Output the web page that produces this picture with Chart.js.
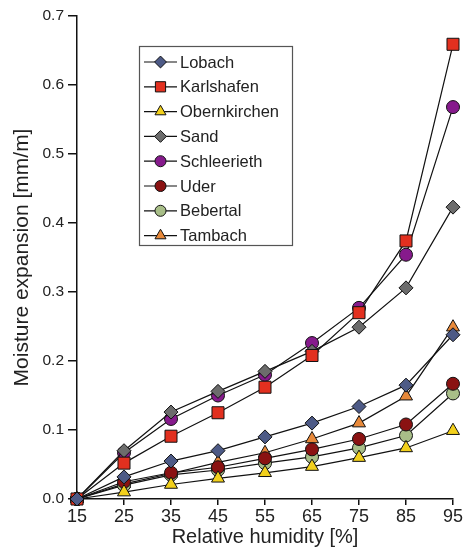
<!DOCTYPE html>
<html>
<head>
<meta charset="utf-8">
<script src="https://cdn.jsdelivr.net/npm/chart.js@4.4.1/dist/chart.umd.min.js"></script>
<style>
  html, body { margin: 0; padding: 0; background: #fff; }
  #wrap { width: 467px; height: 556px; }
</style>
</head>
<body>
<div id="wrap"><canvas id="myChart" width="467" height="556"></canvas></div>
<script>
// relative humidity steps [%]
const humidity = [15, 25, 35, 45, 55, 65, 75, 85, 95];
const yTicks = [0, 0.1, 0.2, 0.3, 0.4, 0.5, 0.6, 0.7];

// moisture expansion [mm/m]
const lobach = [0, 0.032, 0.055, 0.070, 0.090, 0.110, 0.134, 0.165, 0.238];
const karlshafen = [0, 0.052, 0.091, 0.125, 0.162, 0.208, 0.270, 0.374, 0.659];
const obernkirchen = [0, 0.010, 0.021, 0.030, 0.038, 0.047, 0.060, 0.074, 0.099];
const sand = [0, 0.070, 0.126, 0.156, 0.185, 0.214, 0.249, 0.306, 0.423];
const schleerieth = [0, 0.067, 0.116, 0.150, 0.180, 0.226, 0.277, 0.354, 0.568];
const uder = [0, 0.025, 0.038, 0.046, 0.059, 0.072, 0.087, 0.108, 0.167];
const bebertal = [0, 0.020, 0.035, 0.042, 0.052, 0.061, 0.074, 0.092, 0.153];
const tambach = [0, 0.022, 0.037, 0.053, 0.067, 0.087, 0.110, 0.149, 0.249];

const names = ['Lobach', 'Karlshafen', 'Obernkirchen', 'Sand', 'Schleerieth', 'Uder', 'Bebertal', 'Tambach'];
const series = [lobach, karlshafen, obernkirchen, sand, schleerieth, uder, bebertal, tambach];
const fills = ['#4d5a86', '#e2301f', '#f2d01c', '#6c6c6c', '#861a8c', '#8a1212', '#a8be88', '#e8893a'];
const shapes = ['rectRot', 'rect', 'triangle', 'rectRot', 'circle', 'circle', 'circle', 'triangle'];
const radii = { rectRot: 7, rect: 8.5, triangle: 7.5, circle: 6.5 };

const FONT = "Arial, 'Liberation Sans', sans-serif";

const datasets = names.map((name, i) => ({
  label: name,
  data: humidity.map((h, j) => ({ x: h, y: series[i][j] })),
  borderColor: '#111',
  borderWidth: 1.2,
  pointStyle: shapes[i],
  pointRadius: radii[shapes[i]],
  pointBackgroundColor: fills[i],
  pointBorderColor: '#111',
  pointBorderWidth: 1,
  tension: 0,
  clip: false
}));

// legend box drawn inside the plot
const boxLegend = {
  id: 'boxLegend',
  afterDraw(chart) {
    const ctx = chart.ctx;
    ctx.save();
    ctx.strokeStyle = '#555';
    ctx.lineWidth = 1.2;
    ctx.strokeRect(139.5, 46.5, 153, 199);
    ctx.font = '16.5px ' + FONT;
    ctx.textBaseline = 'middle';
    names.forEach((name, i) => {
      const y = 62 + i * 24.8;
      ctx.strokeStyle = '#111';
      ctx.lineWidth = 1.2;
      ctx.beginPath();
      ctx.moveTo(144, y);
      ctx.lineTo(177, y);
      ctx.stroke();
      ctx.fillStyle = fills[i];
      ctx.lineWidth = 1;
      Chart.helpers.drawPoint(ctx, { pointStyle: shapes[i], radius: radii[shapes[i]] * 0.85, borderWidth: 1 }, 160.5, y);
      ctx.fillStyle = '#222';
      ctx.fillText(name, 180, y + 1);
    });
    ctx.restore();
  }
};

const ctx = document.getElementById('myChart').getContext('2d');
const myChart = new Chart(ctx, {
  type: 'line',
  data: { datasets: datasets },
  options: {
    responsive: false,
    animation: false,
    layout: { padding: { top: 16, right: 14, left: 0, bottom: 0 } },
    plugins: { legend: { display: false }, tooltip: { enabled: false } },
    scales: {
      x: {
        type: 'linear',
        min: 15,
        max: 95,
        afterBuildTicks: s => { s.ticks = humidity.map(v => ({ value: v })); },
        afterFit: s => { s.height = 57; },
        border: { display: true, color: '#111', width: 1.5 },
        grid: { drawOnChartArea: false, drawTicks: true, tickLength: 6, color: '#111', lineWidth: 1.5 },
        ticks: { color: '#222', font: { family: FONT, size: 18 }, padding: 1 },
        title: { display: true, text: 'Relative humidity [%]', color: '#222', font: { family: FONT, size: 20 }, padding: { top: 0, bottom: 7 } }
      },
      y: {
        min: 0,
        max: 0.7,
        afterBuildTicks: s => { s.ticks = yTicks.map(v => ({ value: v })); },
        afterFit: s => { s.width = 77; },
        border: { display: true, color: '#111', width: 1.5 },
        grid: { drawOnChartArea: false, drawTicks: true, tickLength: 9, color: '#111', lineWidth: 1.5 },
        ticks: { color: '#222', font: { family: FONT, size: 15.5 }, padding: 4, callback: v => v.toFixed(1) },
        title: { display: true, text: 'Moisture expansion [mm/m]', color: '#222', font: { family: FONT, size: 21 }, padding: { top: 10, bottom: 0 } }
      }
    }
  },
  plugins: [boxLegend]
});
</script>
</body>
</html>
